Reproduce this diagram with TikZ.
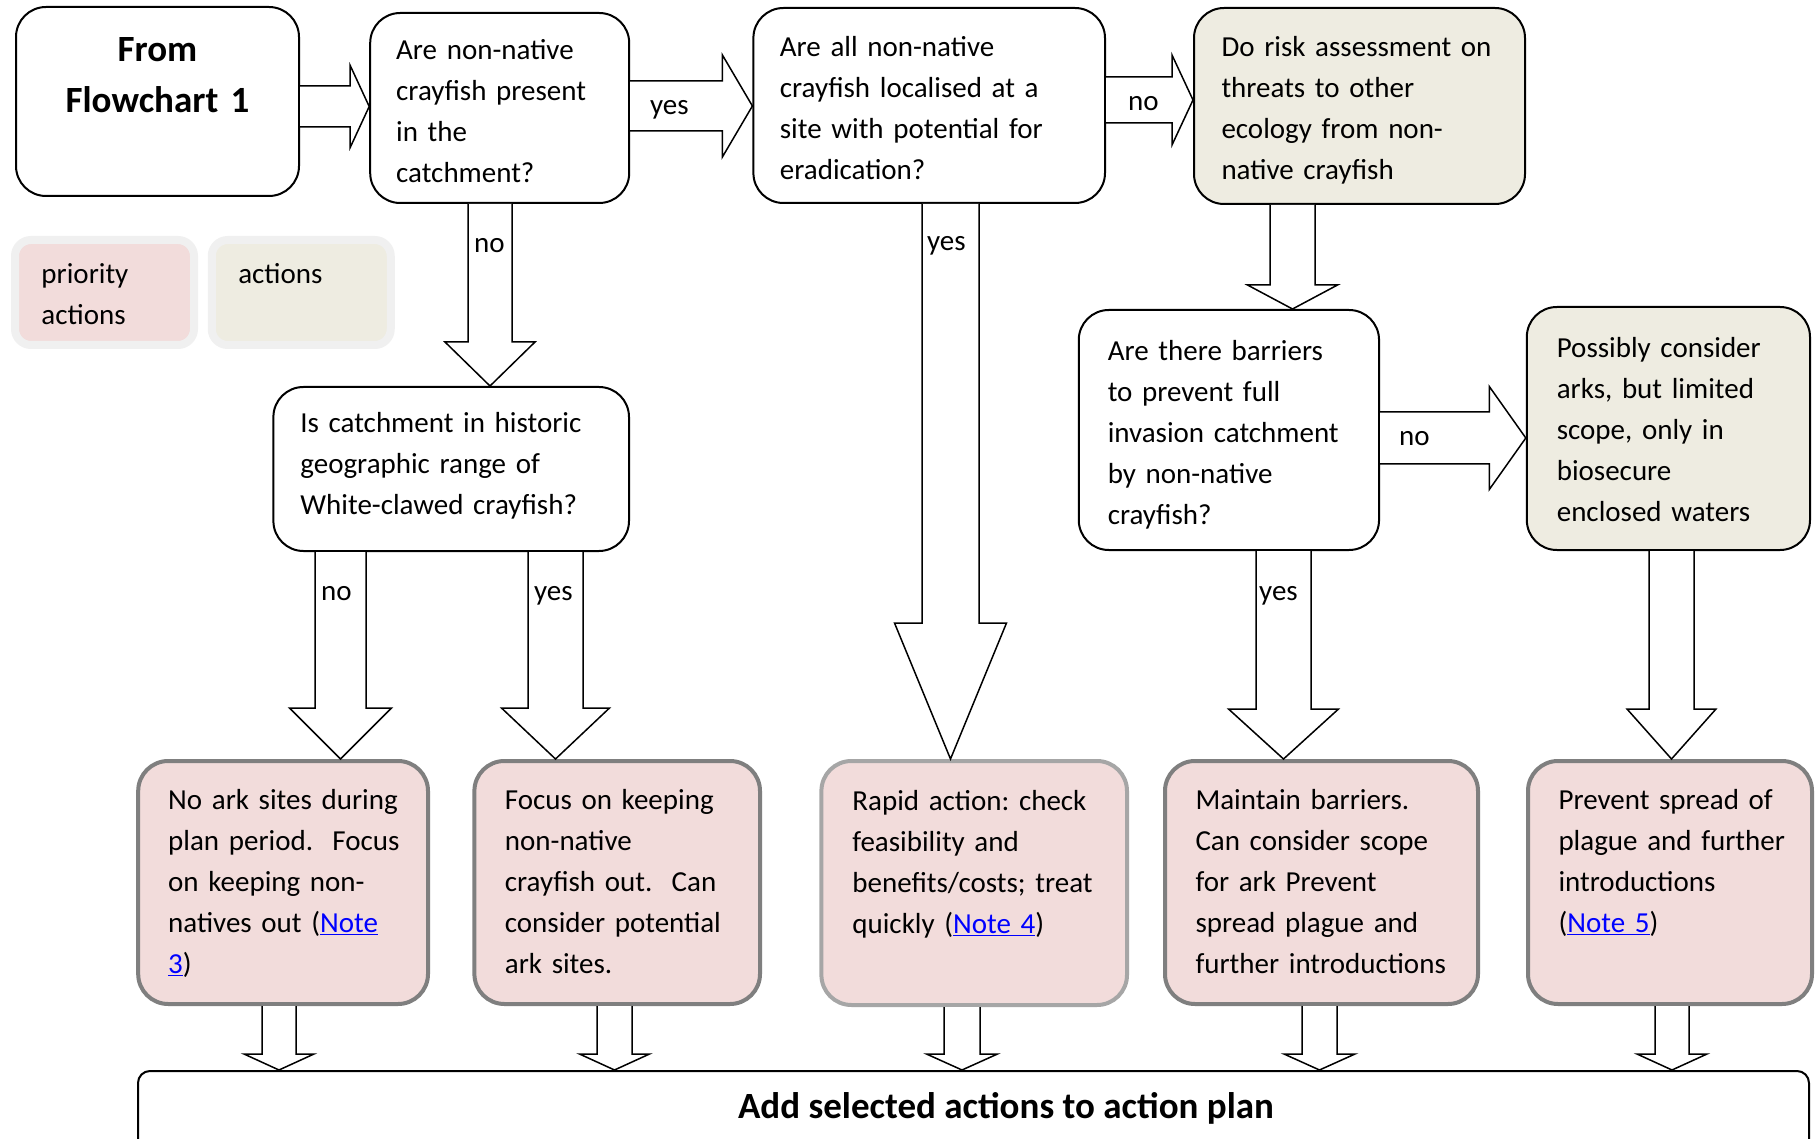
\documentclass[tikz,border=0pt]{standalone}
\usepackage{fontspec}
\setmainfont{Carlito}
\usetikzlibrary{calc}
\definecolor{pinkc}{HTML}{F2DCDB}
\definecolor{beigec}{HTML}{EEECE1}
\definecolor{grayb}{HTML}{7F7F7F}
\definecolor{grayl}{HTML}{A6A6A6}
\definecolor{legring}{HTML}{F0F0F0}
\definecolor{linkc}{HTML}{0000FF}
\frenchspacing
\newcommand\fnt{\fontsize{29pt}{41pt}\selectfont\hyphenpenalty=10000\exhyphenpenalty=10000\frenchspacing}
\newcommand\bfnt{\fontsize{37pt}{51pt}\selectfont\bfseries}
\newcommand\stt{\rule[-7.7pt]{0pt}{41pt}}
\newcommand\sttx[1]{\rule[-#1]{0pt}{1pt}}
\newcommand\bstt{\rule[-14.3pt]{0pt}{51pt}}
\newcommand\lnk[1]{\textcolor{linkc}{\underline{#1}}}
\newcommand\blkdown[5]{%
  \draw[blk] let \p1=(#1), \p2=(#2) in
    (\x1-#3pt,\y1) -- (\x1-#3pt,\y2+#5pt) -- (\x1-#4pt,\y2+#5pt) -- (\x1,\y2)
    -- (\x1+#4pt,\y2+#5pt) -- (\x1+#3pt,\y2+#5pt) -- (\x1+#3pt,\y1);}
\newcommand\blkright[5]{%
  \draw[blk] let \p1=(#1), \p2=(#2) in
    (\x1,\y1+#3pt) -- (\x2-#5pt,\y1+#3pt) -- (\x2-#5pt,\y1+#4pt) -- (\x2,\y1)
    -- (\x2-#5pt,\y1-#4pt) -- (\x2-#5pt,\y1-#3pt) -- (\x1,\y1-#3pt);}
\begin{document}
\begin{tikzpicture}[x=1pt,y=-1pt,
  box/.style={rounded corners=30pt, align=left, inner ysep=0pt, font=\fnt},
  qbox/.style={box, draw=black, line width=2pt, fill=white},
  abox/.style={box, draw=black, line width=2pt, fill=beigec},
  pbox/.style={box, draw=grayb, line width=4pt, fill=pinkc},
  legbox/.style={box, draw=legring, line width=8pt, rounded corners=16pt,
    minimum width=179pt, minimum height=105pt, inner xsep=26.5pt, text width=126pt},
  lbl/.style={font=\fnt, inner sep=0pt, anchor=base west},
  blk/.style={draw=black, fill=white, line width=1.5pt, line join=miter}]
\useasboundingbox (0,0) rectangle (1816,1139);
\fill[white] (0,0) rectangle (1816,1139);

% top row
\node[qbox, font=\bfnt, align=center, rounded corners=30pt, minimum width=283pt, minimum height=189pt,
  inner xsep=16.5pt, text width=250pt] (from) at (157.5,101.5) {\bstt From\\Flowchart~1\\\bstt};
\node[qbox, minimum width=259pt, minimum height=190pt, inner xsep=26pt, text width=207pt]
  (q1) at (499.7,108) {\stt Are~non-native\\crayfish~present\\in~the\\catchment?\stt};
\node[qbox, minimum width=351.6pt, minimum height=195pt, inner xsep=26.5pt, text width=298.6pt]
  (q2) at (929.2,105.5) {\stt Are~all~non-native\\crayfish~localised~at~a\\site~with~potential~for\\eradication?\stt\sttx{9pt}};
\node[abox, minimum width=331pt, minimum height=196pt, inner xsep=27.5pt, text width=276pt]
  (q3) at (1359.5,106) {\stt Do~risk~assessment~on\\threats~to~other\\ecology~from~non-\\native~crayfish\stt\sttx{9pt}};

% legend
\node[legbox, fill=pinkc] (leg1) at (104.5,292.5) {\stt priority\\actions\stt\sttx{11pt}};
\node[legbox, fill=beigec] (leg2) at (301.25,292.5) {\stt actions\\\stt\sttx{11pt}};

% middle row
\node[qbox, minimum width=355.6pt, minimum height=164pt, inner xsep=27pt, text width=301.6pt]
  (q6) at (451.2,469) {\stt Is~catchment~in~historic\\geographic~range~of\\White-clawed~crayfish?\stt\sttx{24pt}};
\node[qbox, minimum width=300.3pt, minimum height=240pt, inner xsep=29pt, text width=242.3pt]
  (q4) at (1228.9,430) {\stt Are~there~barriers\\to~prevent~full\\invasion~catchment\\by~non-native\\crayfish?\stt};
\node[abox, minimum width=283.2pt, minimum height=243pt, inner xsep=30pt, text width=223.2pt]
  (q5) at (1668.4,428.5) {\stt Possibly~consider\\arks,~but~limited\\scope,~only~in\\biosecure\\enclosed~waters\stt\sttx{11pt}};

% bottom row
\node[pbox, minimum width=289.8pt, minimum height=243pt, inner xsep=30pt, text width=229.8pt]
  (a1) at (283.1,882.5) {\stt No~ark~sites~during\\plan~period.~~Focus\\on~keeping~non-\\natives~out~(\lnk{Note}\\\lnk{3})\stt\sttx{14.7pt}};
\node[pbox, minimum width=285.6pt, minimum height=243pt, inner xsep=30.5pt, text width=224.6pt]
  (a2) at (617.2,882.5) {\stt Focus~on~keeping\\non-native\\crayfish~out.~~Can\\consider~potential\\ark~sites.\stt\sttx{14.7pt}};
\node[pbox, draw=grayl, minimum width=305.6pt, minimum height=244pt, inner xsep=31pt, text width=243.6pt]
  (a3) at (974.2,883) {\stt Rapid~action:~check\\feasibility~and\\benefits/costs;~treat\\quickly~(\lnk{Note~4})\\\stt\sttx{14.7pt}};
\node[pbox, minimum width=313pt, minimum height=243pt, inner xsep=30.5pt, text width=252pt]
  (a4) at (1321.5,882.5) {\stt Maintain~barriers.\\Can~consider~scope\\for~ark~Prevent\\spread~plague~and\\further~introductions\stt\sttx{14.7pt}};
\node[pbox, minimum width=284pt, minimum height=243pt, inner xsep=30.5pt, text width=223pt]
  (a5) at (1670,882.5) {\stt Prevent~spread~of\\plague~and~further\\introductions\\(\lnk{Note~5})\\\stt\sttx{14.7pt}};

% final box
\node[draw=black, line width=2pt, rounded corners=12pt, minimum width=1671pt, minimum height=89pt,
  font=\bfnt, inner sep=0pt, text height=26pt, text depth=21pt]
  (fin) at (973.5,1115.5) {\hspace*{65pt}Add selected actions to action plan};

% block arrows
\blkright{[yshift=-5pt]from.east}{q1.west}{20.5}{41}{19}
\blkright{[yshift=2pt]q1.east}{q2.west}{25}{51}{30}
\blkright{[yshift=5.5pt]q2.east}{q3.west}{23}{45}{21}
\blkright{[yshift=-8pt]q4.east}{q5.west}{26}{51.5}{36.5}
\blkdown{[xshift=-9.7pt]q1.south}{q6.north}{22}{45}{44}
\blkdown{[xshift=-110.7pt]q6.south}{a1.north}{25.5}{51}{51}
\blkdown{[xshift=104.3pt]q6.south}{a2.north}{27.5}{54}{51}
\blkdown{[xshift=21.3pt]q2.south}{a3.north}{28.5}{56}{136}
\blkdown{[xshift=-67pt]q3.south}{q4.north}{22.5}{45}{24}
\blkdown{[xshift=54.6pt]q4.south}{a4.north}{27.5}{55}{50}
\blkdown{[xshift=3.1pt]q5.south}{a5.north}{22.5}{44.5}{50}
\blkdown{[xshift=-4.1pt]a1.south}{fin.north}{17}{35}{16}
\blkdown{[xshift=-2.7pt]a2.south}{fin.north}{17.5}{35}{16}
\blkdown{[xshift=-12.2pt]a3.south}{fin.north}{18}{35.5}{16}
\blkdown{[xshift=-2pt]a4.south}{fin.north}{17.5}{35.5}{16}
\blkdown{[xshift=2pt]a5.south}{fin.north}{17}{35}{16}

% labels
\node[lbl] (lyes1) at (650,115) {yes};
\node[lbl] (lno1) at (474,253) {no};
\node[lbl] (lno2) at (1128,111) {no};
\node[lbl] (lyes2) at (927,251) {yes};
\node[lbl] (lno3) at (1399,446) {no};
\node[lbl] (lno4) at (321,600) {no};
\node[lbl] (lyes3) at (534,600) {yes};
\node[lbl] (lyes4) at (1259,600) {yes};
\end{tikzpicture}
\end{document}
